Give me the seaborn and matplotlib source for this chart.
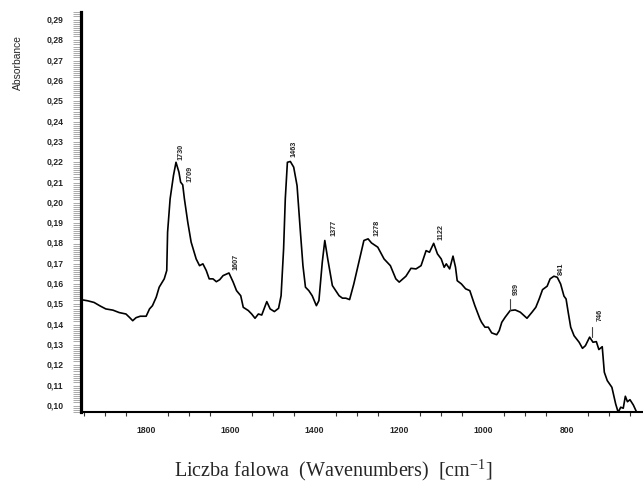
import numpy as np
import pandas as pd
import matplotlib
matplotlib.use("Agg")
import matplotlib.pyplot as plt
import seaborn as sns
from matplotlib import font_manager
from matplotlib.ticker import MultipleLocator, FuncFormatter, FixedLocator

# ---------------- data ----------------
wavenumber = [1951, 1940, 1925, 1910, 1897, 1880, 1865, 1849, 1840, 1833, 1825, 1815,
              1801, 1793, 1786, 1777, 1770, 1758, 1752, 1750, 1744, 1736, 1730, 1723,
              1719, 1714, 1710, 1702, 1694, 1682, 1674, 1666, 1658, 1651, 1642, 1634,
              1626, 1618, 1604, 1594, 1586, 1576, 1570, 1558, 1550, 1542, 1534, 1526,
              1514, 1506, 1496, 1486, 1480, 1474, 1470, 1465, 1458, 1450, 1442, 1434,
              1428, 1422, 1414, 1406, 1396, 1390, 1382, 1376, 1369, 1358, 1350, 1342,
              1334, 1326, 1317, 1307, 1295, 1283, 1273, 1265, 1250, 1235, 1220, 1207,
              1199, 1195, 1183, 1171, 1159, 1147, 1135, 1127, 1117, 1108, 1099, 1092,
              1087, 1079, 1071, 1065, 1061, 1051, 1041, 1031, 1019, 1007, 1003, 995,
              987, 979, 967, 961, 955, 947, 935, 923, 911, 895, 883, 874,
              866, 858, 847, 840, 831, 823, 815, 807, 802, 797, 791, 783,
              771, 763, 756, 746, 738, 730, 724, 716, 711, 704, 693, 684,
              678, 672, 666, 661, 656, 650, 642, 634]
absorbance = [0.1512, 0.1508, 0.1500, 0.1482, 0.1468, 0.1462, 0.1450, 0.1443, 0.1425, 0.1410, 0.1425, 0.1432,
              0.1432, 0.1468, 0.1484, 0.1526, 0.1575, 0.1616, 0.1657, 0.1846, 0.2010, 0.2125, 0.2190, 0.2141,
              0.2092, 0.2079, 0.2010, 0.1895, 0.1797, 0.1714, 0.1681, 0.1690, 0.1657, 0.1616, 0.1616, 0.1602,
              0.1612, 0.1632, 0.1645, 0.1600, 0.1558, 0.1533, 0.1476, 0.1460, 0.1443, 0.1422, 0.1443, 0.1438,
              0.1504, 0.1468, 0.1455, 0.1471, 0.1533, 0.1764, 0.2010, 0.2190, 0.2194, 0.2166, 0.2075, 0.1846,
              0.1681, 0.1575, 0.1558, 0.1533, 0.1484, 0.1509, 0.1698, 0.1805, 0.1714, 0.1583, 0.1558, 0.1533,
              0.1521, 0.1521, 0.1514, 0.1591, 0.1698, 0.1805, 0.1813, 0.1793, 0.1772, 0.1714, 0.1681, 0.1616,
              0.1600, 0.1607, 0.1629, 0.1668, 0.1665, 0.1681, 0.1755, 0.1747, 0.1791, 0.1739, 0.1714, 0.1673,
              0.1690, 0.1665, 0.1728, 0.1673, 0.1607, 0.1591, 0.1567, 0.1558, 0.1484, 0.1419, 0.1402, 0.1378,
              0.1378, 0.1350, 0.1341, 0.1361, 0.1402, 0.1427, 0.1460, 0.1463, 0.1452, 0.1422, 0.1452, 0.1476,
              0.1517, 0.1563, 0.1580, 0.1616, 0.1629, 0.1624, 0.1591, 0.1531, 0.1517, 0.1452, 0.1378, 0.1336,
              0.1304, 0.1274, 0.1287, 0.1329, 0.1304, 0.1307, 0.1268, 0.1282, 0.1156, 0.1115, 0.1082, 0.1000,
              0.0959, 0.0984, 0.0979, 0.1038, 0.1011, 0.1021, 0.0995, 0.0959]

peak_labels = ["1730", "1709", "1607", "1463", "1377", "1278", "1122", "939", "841", "746"]
peak_label_x = [1718, 1697, 1587, 1450, 1354, 1252, 1099, 920, 814, 721]
peak_label_y = [0.2207, 0.2100, 0.1665, 0.2220, 0.1833, 0.1833, 0.1813, 0.1542, 0.1640, 0.1415]
marker_x = [935, 740]
marker_y0 = [0.1462, 0.1330]
marker_y1 = [0.1517, 0.1380]

y_ticks = [0.10, 0.11, 0.12, 0.13, 0.14, 0.15, 0.16, 0.17, 0.18, 0.19,
           0.20, 0.21, 0.22, 0.23, 0.24, 0.25, 0.26, 0.27, 0.28, 0.29]
x_ticks = [1800, 1600, 1400, 1200, 1000, 800]

# ---------------- style ----------------
sns.set_style("white")
available = {f.name for f in font_manager.fontManager.ttflist}
narrow = "Liberation Sans Narrow" if "Liberation Sans Narrow" in available else (
    "DejaVu Sans Condensed" if "DejaVu Sans Condensed" in available else "Liberation Sans")
plt.rcParams["font.family"] = ["Liberation Sans", "DejaVu Sans"]
plt.rcParams["mathtext.fontset"] = "stix"

fig = plt.figure(figsize=(6.43, 4.85), dpi=100)
ax = fig.add_axes([81 / 643, 1 - 413.3 / 485, 1 - 81 / 643, (413.3 - 13) / 485])

df = pd.DataFrame({"Wavenumber": wavenumber, "Absorbance": absorbance})
sns.lineplot(data=df, x="Wavenumber", y="Absorbance", color="black",
             linewidth=1.2, estimator=None, ax=ax)

ax.set_xlim(1956, 619)
ax.set_ylim(0.0959, 0.293)

for s in ["top", "right"]:
    ax.spines[s].set_visible(False)
ax.spines["left"].set_linewidth(2.3)
ax.spines["bottom"].set_linewidth(1.5)
ax.spines["left"].set_color("black")
ax.spines["bottom"].set_color("black")

ax.yaxis.set_major_locator(FixedLocator(y_ticks))
ax.yaxis.set_minor_locator(MultipleLocator(0.001))
ax.yaxis.set_major_formatter(FuncFormatter(lambda v, p: f"{v:.2f}".replace(".", ",")))
ax.xaxis.set_major_locator(FixedLocator(x_ticks))
ax.xaxis.set_minor_locator(MultipleLocator(50))

ax.tick_params(axis="y", which="major", direction="out", length=9.5, width=0.7,
               color="#555555", pad=3, labelsize=6.2)
ax.tick_params(axis="y", which="minor", direction="out", length=5.5, width=0.5,
               color="#888888", left=True)
ax.tick_params(axis="x", which="major", direction="out", length=3, width=0.8,
               color="#333333", pad=6, labelsize=6.2)
ax.tick_params(axis="x", which="minor", direction="out", length=3, width=0.8,
               color="#333333", bottom=True)
for lab in ax.get_yticklabels() + ax.get_xticklabels():
    lab.set_fontweight("bold")

ax.set_ylabel("Absorbance", fontsize=7.4, family=[narrow, "DejaVu Sans"])
ax.yaxis.set_label_coords(-0.112, 0.875)
ax.yaxis.label.set_va("center")

ax.set_xlabel(r"Liczba falowa  (Wavenumbers)  [cm$^{\mathregular{-1}}$]",
              fontsize=14.5, family=["Liberation Serif", "DejaVu Serif"])
ax.xaxis.set_label_coords(0.45, -0.143)
ax.xaxis.label.set_va("center")

for t, xx, yy in zip(peak_labels, peak_label_x, peak_label_y):
    ax.text(xx, yy, t, rotation=90, ha="center", va="bottom", fontsize=5.2,
            fontweight="bold", family=[narrow, "DejaVu Sans"])
for xx, a, b in zip(marker_x, marker_y0, marker_y1):
    ax.plot([xx, xx], [a, b], color="#444444", linewidth=0.8)

fig.savefig("out.png", dpi=100)
